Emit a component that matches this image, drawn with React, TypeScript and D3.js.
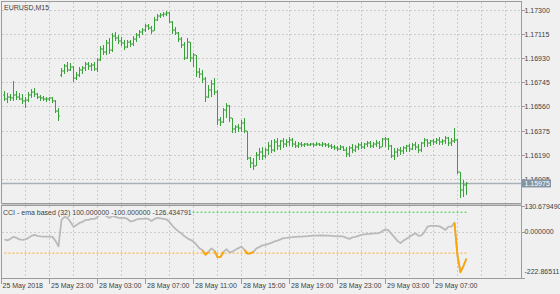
import React from "react";
import * as d3 from "d3";

const symbolTitle = "EURUSD,M15";
const cciTitle = "CCI - ema based (32) 100.000000 -100.000000 -126.434791";
const priceTicks = [1.173, 1.17115, 1.1693, 1.16745, 1.1656, 1.16375, 1.1619, 1.16005];
const priceTickLabels = ["1.17300", "1.17115", "1.16930", "1.16745", "1.16560", "1.16375", "1.16190", "1.16005"];
const lastPrice = 1.15975;
const lastPriceLabel = "1.15975";
const cciAxisTicks = [130.67949, 0, -222.86511];
const cciAxisLabels = ["130.679490", "0.000000", "-222.86511"];
const cciUpper = 100;
const cciLower = -100;
const firstDateLabel = "25 May 2018";
const timeTickIndex = [15, 31, 47, 63, 79, 95, 111, 127, 143];
const timeTickLabels = [
  "25 May 23:00", "28 May 03:00", "28 May 07:00", "28 May 11:00", "28 May 15:00",
  "28 May 19:00", "28 May 23:00", "29 May 03:00", "29 May 07:00",
];

const opens = [
  1.16651, 1.1662, 1.16635, 1.16628, 1.16651, 1.16635, 1.1662, 1.16605, 1.16612, 1.16651,
  1.16673, 1.16658, 1.16635, 1.16628, 1.1662, 1.1662, 1.16628, 1.16605, 1.16528, 1.16803,
  1.16834, 1.16872, 1.16842, 1.16864, 1.1678, 1.16803, 1.16842, 1.16857, 1.16887, 1.16872,
  1.1688, 1.16849, 1.16918, 1.17002, 1.16979, 1.17048, 1.16994, 1.17101, 1.17086, 1.17063,
  1.17048, 1.17017, 1.17055, 1.1704, 1.17078, 1.17109, 1.17132, 1.17147, 1.17178, 1.17162,
  1.1714, 1.17224, 1.17254, 1.17262, 1.17269, 1.17277, 1.17208, 1.17147, 1.17124, 1.17078,
  1.17033, 1.16933, 1.17055, 1.16933, 1.16956, 1.16826, 1.16811, 1.16773, 1.16635, 1.16689,
  1.16735, 1.16673, 1.1646, 1.16444, 1.16536, 1.16567, 1.16475, 1.16391, 1.16406, 1.16398,
  1.16437, 1.16376, 1.16169, 1.16131, 1.16108, 1.16192, 1.16215, 1.16185, 1.1623, 1.16261,
  1.1623, 1.16292, 1.16261, 1.16299, 1.16276, 1.16292, 1.16307, 1.16276, 1.16261, 1.16276,
  1.16269, 1.16276, 1.16269, 1.16276, 1.16269, 1.16276, 1.16269, 1.16276, 1.16269, 1.16261,
  1.16253, 1.16246, 1.16238, 1.16253, 1.1623, 1.162, 1.16246, 1.1623, 1.16253, 1.16269,
  1.16253, 1.16276, 1.16284, 1.16261, 1.16276, 1.16284, 1.16253, 1.16314, 1.16314, 1.16261,
  1.16185, 1.16215, 1.1623, 1.16223, 1.16246, 1.16261, 1.16238, 1.16269, 1.16253, 1.1623,
  1.16284, 1.16307, 1.16284, 1.16299, 1.16292, 1.16307, 1.16292, 1.16299, 1.16322, 1.16284,
  1.16299, 1.16307, 1.16062, 1.15925, 1.15963,
];
const highs = [
  1.16681, 1.16666, 1.16658, 1.16758, 1.16681, 1.16666, 1.16658, 1.16635, 1.16673, 1.16696,
  1.16704, 1.16666, 1.16651, 1.16643, 1.16635, 1.16635, 1.16635, 1.16612, 1.16551, 1.16857,
  1.16887, 1.16903, 1.16895, 1.16872, 1.16826, 1.16864, 1.16872, 1.16903, 1.16903, 1.16895,
  1.16903, 1.16933, 1.17025, 1.17033, 1.17071, 1.17086, 1.17124, 1.17132, 1.17109, 1.17094,
  1.17071, 1.17071, 1.17071, 1.17101, 1.17124, 1.17147, 1.17162, 1.17193, 1.17193, 1.17178,
  1.17247, 1.17269, 1.17277, 1.17285, 1.17292, 1.17285, 1.17216, 1.1717, 1.17132, 1.17094,
  1.17055, 1.17086, 1.17055, 1.16971, 1.16956, 1.16857, 1.16842, 1.16788, 1.16727, 1.16765,
  1.1678, 1.16689, 1.16482, 1.16551, 1.16589, 1.16574, 1.16475, 1.16421, 1.16429, 1.1646,
  1.16475, 1.16376, 1.16177, 1.16169, 1.16215, 1.16246, 1.16253, 1.16246, 1.16292, 1.16307,
  1.16314, 1.16322, 1.16307, 1.16322, 1.16314, 1.1633, 1.16322, 1.16299, 1.16292, 1.16292,
  1.16284, 1.16284, 1.16284, 1.16284, 1.16292, 1.16284, 1.16292, 1.16284, 1.16284, 1.16276,
  1.16269, 1.16261, 1.16269, 1.16261, 1.16253, 1.16261, 1.16276, 1.16269, 1.16284, 1.16292,
  1.16284, 1.16299, 1.16299, 1.16292, 1.16307, 1.16299, 1.16322, 1.1633, 1.16322, 1.16269,
  1.16246, 1.16246, 1.16253, 1.16261, 1.16269, 1.16276, 1.16284, 1.16292, 1.16276, 1.16292,
  1.16322, 1.16314, 1.16307, 1.16314, 1.16322, 1.1633, 1.16314, 1.16337, 1.1633, 1.16322,
  1.16398, 1.16314, 1.16062, 1.16001, 1.15986,
];
const lows = [
  1.16605, 1.16589, 1.16605, 1.16605, 1.16612, 1.16612, 1.16582, 1.16551, 1.16597, 1.16628,
  1.16635, 1.1662, 1.16605, 1.16605, 1.16597, 1.16605, 1.16589, 1.16513, 1.16452, 1.16788,
  1.16811, 1.16826, 1.16834, 1.1675, 1.16765, 1.16788, 1.16811, 1.16834, 1.16842, 1.16834,
  1.16834, 1.16826, 1.1691, 1.16956, 1.16956, 1.16964, 1.16979, 1.17063, 1.1704, 1.17025,
  1.16994, 1.1701, 1.17017, 1.17025, 1.17055, 1.17086, 1.17109, 1.17132, 1.17147, 1.17117,
  1.1714, 1.17216, 1.17239, 1.17247, 1.17254, 1.17201, 1.17117, 1.17109, 1.17055, 1.1701,
  1.16918, 1.16926, 1.16903, 1.16864, 1.16788, 1.1678, 1.16742, 1.16597, 1.16628, 1.16635,
  1.16651, 1.16421, 1.16414, 1.16437, 1.16475, 1.16444, 1.1636, 1.1636, 1.16368, 1.16368,
  1.1636, 1.16154, 1.16093, 1.16078, 1.16108, 1.16154, 1.16154, 1.16169, 1.16192, 1.16207,
  1.16215, 1.1623, 1.1623, 1.16246, 1.16253, 1.16261, 1.16253, 1.16246, 1.16246, 1.16253,
  1.16253, 1.16261, 1.16261, 1.16253, 1.16261, 1.16261, 1.16253, 1.16253, 1.16246, 1.16238,
  1.1623, 1.16223, 1.1623, 1.16223, 1.16177, 1.16177, 1.16207, 1.16215, 1.1623, 1.16238,
  1.16238, 1.16253, 1.16246, 1.16246, 1.16253, 1.16238, 1.16253, 1.16253, 1.1623, 1.16169,
  1.16154, 1.16177, 1.16192, 1.162, 1.16215, 1.16215, 1.1623, 1.1623, 1.16207, 1.16215,
  1.16253, 1.16253, 1.16261, 1.16269, 1.16276, 1.16269, 1.16269, 1.16276, 1.16261, 1.16261,
  1.16284, 1.16047, 1.15864, 1.15871, 1.15887,
];
const closes = [
  1.1662, 1.16635, 1.16628, 1.16651, 1.16635, 1.1662, 1.16605, 1.16612, 1.16651, 1.16673,
  1.16658, 1.16635, 1.16628, 1.1662, 1.1662, 1.16628, 1.16605, 1.16528, 1.1649, 1.16834,
  1.16872, 1.16842, 1.16864, 1.1678, 1.16803, 1.16842, 1.16857, 1.16887, 1.16872, 1.1688,
  1.16849, 1.16918, 1.17002, 1.16979, 1.17048, 1.16994, 1.17101, 1.17086, 1.17063, 1.17048,
  1.17017, 1.17055, 1.1704, 1.17078, 1.17109, 1.17132, 1.17147, 1.17178, 1.17162, 1.1714,
  1.17224, 1.17254, 1.17262, 1.17269, 1.17277, 1.17208, 1.17147, 1.17124, 1.17078, 1.17033,
  1.16933, 1.17055, 1.16933, 1.16956, 1.16826, 1.16811, 1.16773, 1.16635, 1.16689, 1.16735,
  1.16673, 1.1646, 1.16444, 1.16536, 1.16567, 1.16475, 1.16391, 1.16406, 1.16398, 1.16437,
  1.16376, 1.16169, 1.16131, 1.16108, 1.16192, 1.16215, 1.16185, 1.1623, 1.16261, 1.1623,
  1.16292, 1.16261, 1.16299, 1.16276, 1.16292, 1.16307, 1.16276, 1.16261, 1.16276, 1.16269,
  1.16276, 1.16269, 1.16276, 1.16269, 1.16276, 1.16269, 1.16276, 1.16269, 1.16261, 1.16253,
  1.16246, 1.16238, 1.16253, 1.1623, 1.162, 1.16246, 1.1623, 1.16253, 1.16269, 1.16253,
  1.16276, 1.16284, 1.16261, 1.16276, 1.16284, 1.16253, 1.16314, 1.16314, 1.16261, 1.16185,
  1.16215, 1.1623, 1.16223, 1.16246, 1.16261, 1.16238, 1.16269, 1.16253, 1.1623, 1.16284,
  1.16307, 1.16284, 1.16299, 1.16292, 1.16307, 1.16292, 1.16299, 1.16322, 1.16284, 1.16299,
  1.16307, 1.16062, 1.15925, 1.15963, 1.15975,
];
const cci = [
  -32.7, -37.6, -30.2, -20.5, -25.4, -32.7, -35.1, -32.7, -25.4, -15.6,
  -10.7, -15.6, -18.0, -19.0, -19.0, -19.0, -20.5, -40.0, -66.8, 62.4,
  77.1, 72.2, 52.7, 28.3, 38.0, 47.8, 52.7, 62.4, 62.4, 67.3,
  67.3, 77.1, 91.7, 86.8, 82.0, 72.2, 82.0, 77.1, 72.2, 72.2,
  72.2, 67.3, 55.1, 57.6, 64.9, 67.3, 67.3, 69.8, 67.3, 57.6,
  67.3, 72.2, 69.8, 67.3, 64.9, 52.7, 33.2, 18.5, 6.3, -3.4,
  -18.0, -27.8, -35.1, -43.4, -59.5, -76.6, -86.3, -108.3, -93.7, -76.6,
  -88.8, -119.5, -119.5, -93.7, -80.5, -96.1, -92.2, -83.9, -75.6, -67.8,
  -83.9, -102.4, -101.0, -93.7, -76.6, -69.3, -62.0, -59.5, -54.6, -49.8,
  -42.4, -38.5, -32.7, -26.8, -25.4, -22.9, -22.0, -20.5, -19.5, -19.0,
  -18.0, -17.1, -15.6, -14.1, -14.1, -13.7, -13.7, -14.1, -14.6, -15.6,
  -16.6, -18.0, -17.1, -19.5, -25.4, -30.2, -22.9, -20.5, -15.6, -10.7,
  -8.3, -5.9, -5.9, -3.4, -3.4, -1.0, 8.8, 16.1, 11.2, -5.9,
  -22.9, -40.0, -51.2, -38.5, -30.2, -20.5, -10.7, -2.4, -15.6, -13.2,
  3.9, 29.8, 33.2, 33.2, 33.2, 30.7, 23.4, 13.7, 29.8, 29.8,
  49.3, -113.2, -193.7, -162.0, -126.434791,
];

const BG = "#f0f0f0";
const GRID = "#cdcdcd";
const FRAME = "#9c9c9c";
const TEXT = "#3f3f3f";
const BAR = "#35a335";
const FONT = "'Liberation Sans', Arial, sans-serif";

export default function App() {
  const W = 560;
  const H = 294;
  const left = 1.5;
  const right = 521.5;
  const top = 1.5;
  const mainBottom = 203.5;
  const indTop = 205.5;
  const indBottom = 278.5;

  const n = closes.length;
  const x = d3.scaleLinear().domain([0, n - 1]).range([4.5, 4.5 + 3 * (n - 1)]);
  const y = d3.scaleLinear().domain([1.16005, 1.173]).range([179.5, 10]);
  const yc = d3.scaleLinear().domain([-222.86511, 130.67949]).range([278.2, 206.0]);

  const gridIdx = d3.range(7, 200, 8).filter((i) => x(i) < right - 1);
  const snap = (v: number) => Math.round(v - 0.5) + 0.5;

  const pts = cci.map((v, i) => [x(i), yc(v)] as [number, number]);
  const line = d3.line<[number, number]>();
  const grayPath = line(pts) || "";
  const isLow = (i: number) => i >= 0 && i < n && cci[i] < cciLower;
  const orangeLine = d3
    .line<[number, number]>()
    .defined((_, i) => isLow(i) || isLow(i - 1) || isLow(i + 1));
  const orangePath = orangeLine(pts) || "";

  const txt = { fontFamily: FONT, fontSize: 7, fill: TEXT } as const;

  return (
    <div style={{ position: "absolute", left: 0, top: 0 }}>
      <svg width={W} height={H} viewBox={`0 0 ${W} ${H}`} style={{ display: "block" }}>
        <defs>
          <clipPath id="mainClip">
            <rect x={left} y={top} width={right - left} height={mainBottom - top} />
          </clipPath>
          <clipPath id="indClip">
            <rect x={left} y={indTop} width={right - left} height={indBottom - indTop} />
          </clipPath>
        </defs>
        <rect x={0} y={0} width={W} height={H} fill={BG} />

        {/* main pane grid */}
        <g stroke={GRID} strokeWidth={1} strokeDasharray="2,2" shapeRendering="crispEdges">
          {priceTicks.map((p, k) => (
            <line key={"hg" + k} x1={left} x2={right} y1={snap(y(p))} y2={snap(y(p))} />
          ))}
          {gridIdx.map((i) => (
            <line key={"vg" + i} x1={x(i)} x2={x(i)} y1={top} y2={mainBottom} />
          ))}
          {gridIdx.map((i) => (
            <line key={"vgi" + i} x1={x(i)} x2={x(i)} y1={indTop} y2={indBottom} />
          ))}
          <line x1={left} x2={right} y1={snap(yc(0))} y2={snap(yc(0))} />
        </g>

        {/* current price line */}
        <line x1={left} x2={right} y1={y(lastPrice)} y2={y(lastPrice)} stroke="#a9b1b9" strokeWidth={1.5} />

        {/* OHLC bars */}
        <g clipPath="url(#mainClip)" fill={BAR}>
          {closes.map((c, i) => {
            const xc = x(i);
            const yh = y(highs[i]);
            const yl = y(lows[i]);
            return (
              <g key={"b" + i}>
                <rect x={xc - 0.5} y={yh} width={1} height={Math.max(1, yl - yh)} />
                <rect x={xc - 1.5} y={y(opens[i]) - 0.5} width={1} height={1} />
                <rect x={xc + 0.5} y={y(c) - 0.5} width={1} height={1} />
              </g>
            );
          })}
        </g>

        {/* indicator */}
        <g clipPath="url(#indClip)">
          <line x1={x(0)} x2={x(n - 1)} y1={yc(cciUpper)} y2={yc(cciUpper)} stroke="#3fd03f" strokeWidth={1} strokeDasharray="2,2" />
          <line x1={x(0)} x2={x(n - 1)} y1={yc(cciLower)} y2={yc(cciLower)} stroke="#ffaa22" strokeWidth={1} strokeDasharray="2,2" />
          <path d={grayPath} fill="none" stroke="#bababa" strokeWidth={1.8} strokeLinejoin="round" />
          <path d={orangePath} fill="none" stroke="#ffa500" strokeWidth={1.8} strokeLinejoin="round" />
        </g>

        {/* frames */}
        <g stroke={FRAME} strokeWidth={1} fill="none" shapeRendering="crispEdges">
          <rect x={left} y={top} width={right - left} height={mainBottom - top} />
          <rect x={left} y={indTop} width={right - left} height={indBottom - indTop} />
          <line x1={left} x2={right} y1={mainBottom + 1} y2={mainBottom + 1} stroke="#c4c4c4" />
          <line x1={left} x2={left} y1={indBottom} y2={indBottom + 5} />
          {timeTickIndex.map((i) => (
            <line key={"tt" + i} x1={x(i)} x2={x(i)} y1={indBottom} y2={indBottom + 5} />
          ))}
          {priceTicks.map((p, k) => (
            <line key={"pt" + k} x1={right} x2={right + 3} y1={snap(y(p))} y2={snap(y(p))} />
          ))}
          {cciAxisTicks.map((v, k) => (
            <line key={"ct" + k} x1={right} x2={right + 3} y1={snap(yc(v))} y2={snap(yc(v))} />
          ))}
        </g>

        {/* texts */}
        <text x={4} y={9.5} {...txt}>{symbolTitle}</text>
        <rect x={2} y={208} width={190} height={8} fill={BG} />
        <text x={3} y={214.5} {...txt}>{cciTitle}</text>

        {priceTicks.map((p, k) => (
          <text key={"pl" + k} x={524.5} y={y(p) + 2.5} {...txt}>{priceTickLabels[k]}</text>
        ))}
        <rect x={522} y={y(lastPrice) - 4} width={29} height={8} fill="#8594a2" />
        <text x={524.5} y={y(lastPrice) + 2.5} {...txt} fill="#ffffff">{lastPriceLabel}</text>

        {cciAxisTicks.map((v, k) => (
          <text
            key={"cl" + k}
            x={524.5}
            y={(k === 0 ? yc(v) + 2.5 : k === 2 ? yc(v) - 4.5 : yc(v) + 1.5) + 0}
            {...txt}
          >
            {cciAxisLabels[k]}
          </text>
        ))}

        <text x={2.5} y={287.5} {...txt}>{firstDateLabel}</text>
        {timeTickIndex.map((i, k) => (
          <text key={"tl" + i} x={x(i) + 1.5} y={287.5} {...txt}>{timeTickLabels[k]}</text>
        ))}
      </svg>
    </div>
  );
}
